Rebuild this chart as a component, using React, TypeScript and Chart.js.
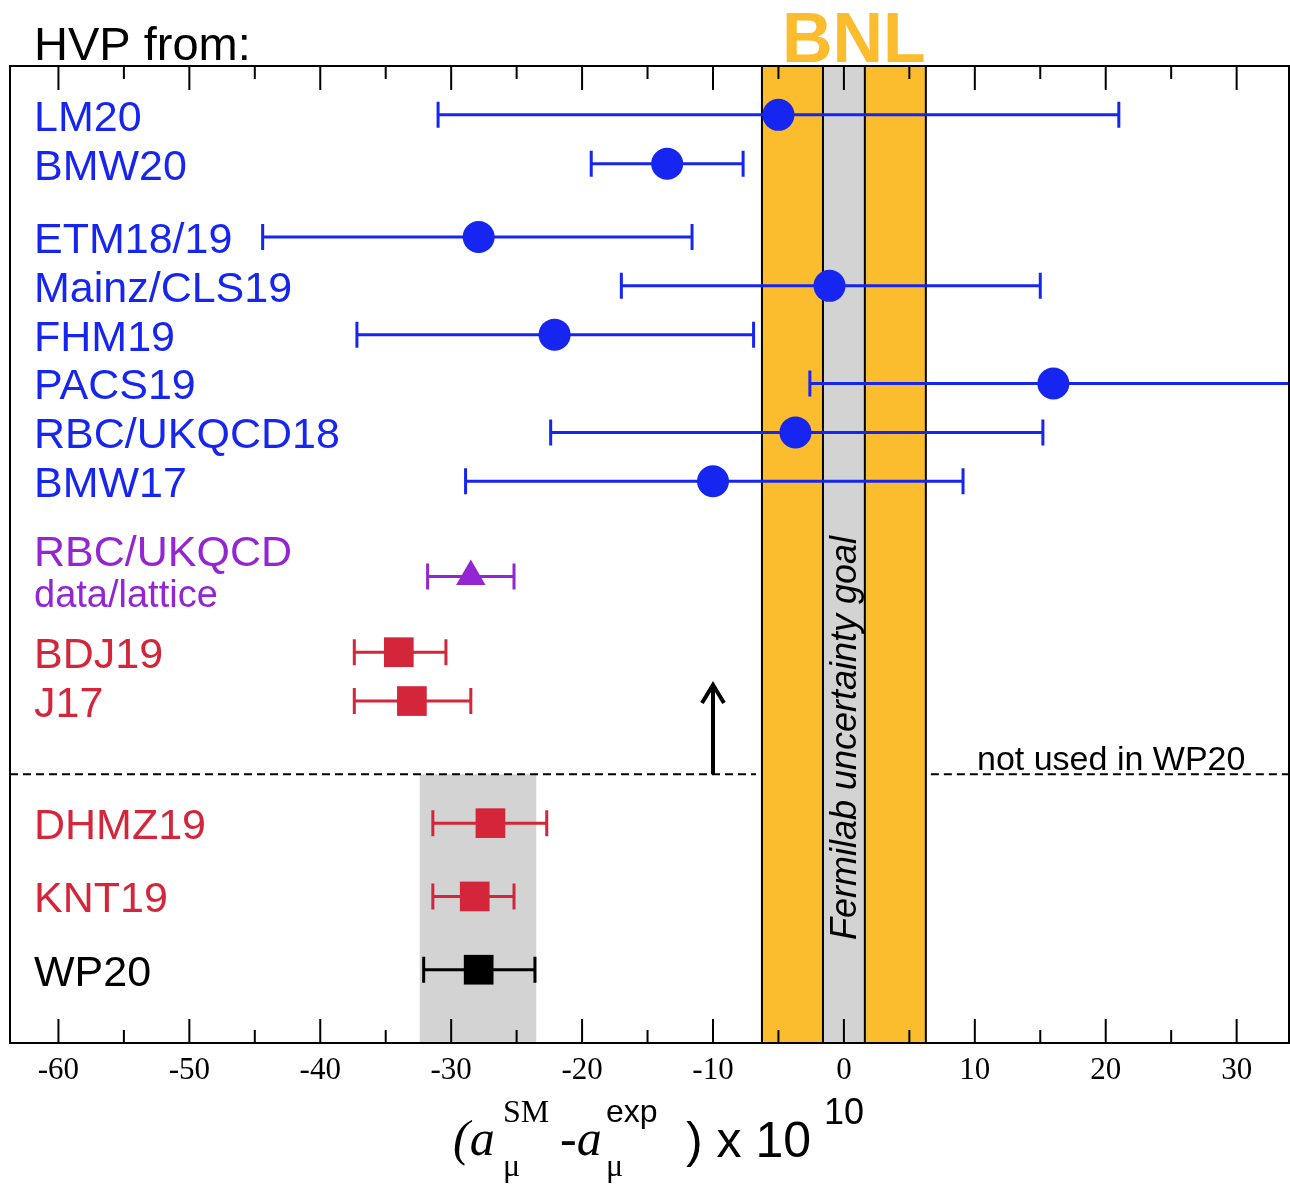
import { useEffect, useRef } from "react"
import Chart from "chart.js/auto"

// rows are in "row units" on a reversed linear y scale (0 top, 20 bottom)
const labels = ["LM20", "BMW20", "ETM18/19", "Mainz/CLS19", "FHM19", "PACS19", "RBC/UKQCD18", "BMW17", "RBC/UKQCD", "BDJ19", "J17", "DHMZ19", "KNT19", "WP20"]
const rows = [1, 2, 3.5, 4.5, 5.5, 6.5, 7.5, 8.5, 10.45, 12, 13, 15.5, 17, 18.5]
const centers = [-5.0, -13.5, -27.9, -1.1, -22.1, 16.0, -3.7, -10.0, -28.5, -34.0, -33.0, -27.0, -28.2, -27.9]
const lows = [-31.0, -19.3, -44.4, -17.0, -37.2, -2.6, -22.4, -28.9, -31.8, -37.4, -37.4, -31.4, -31.4, -32.1]
const highs = [21.0, -7.7, -11.6, 15.0, -6.9, 40, 15.2, 9.1, -25.2, -30.4, -28.5, -22.7, -25.2, -23.6]
const groups = ["blue", "blue", "blue", "blue", "blue", "blue", "blue", "blue", "purple", "red", "red", "red", "red", "black"]
const xTicks = [-60, -50, -40, -30, -20, -10, 0, 10, 20, 30]

const colors: { [k: string]: string } = { blue: "#1626f0", purple: "#9326d2", red: "#d3263a", black: "#000000" }
const styles: { [k: string]: string } = { blue: "circle", purple: "triangle", red: "rect", black: "rect" }

const BNL = 6.26
const FNAL = 1.6
const WP_BAND = [-32.4, -23.5]
const SPLIT_ROW = 14.5
const ARROW_TOP = 12.67

const SANS = "'Liberation Sans', Arial, sans-serif"
const SERIF = "'Liberation Serif', 'Times New Roman', serif"

export default function App() {
  const ref = useRef<HTMLCanvasElement>(null)
  useEffect(() => {
    document.body.style.margin = "0"
    const overlay = {
      id: "overlay",
      beforeDatasetsDraw(chart: any) {
        const { ctx, chartArea: a, scales } = chart
        const x = scales.x, y = scales.y
        ctx.save()
        // BNL band
        ctx.fillStyle = "#fbbd2e"
        ctx.fillRect(x.getPixelForValue(-BNL), a.top, x.getPixelForValue(BNL) - x.getPixelForValue(-BNL), a.bottom - a.top)
        ctx.fillStyle = "#d3d3d3"
        ctx.fillRect(x.getPixelForValue(-FNAL), a.top, x.getPixelForValue(FNAL) - x.getPixelForValue(-FNAL), a.bottom - a.top)
        ctx.strokeStyle = "#000"
        ctx.lineWidth = 2
        for (const v of [-BNL, -FNAL, FNAL, BNL]) {
          const px = x.getPixelForValue(v)
          ctx.beginPath(); ctx.moveTo(px, a.top); ctx.lineTo(px, a.bottom); ctx.stroke()
        }
        // WP band
        const wy = y.getPixelForValue(SPLIT_ROW)
        ctx.fillStyle = "#d3d3d3"
        ctx.fillRect(x.getPixelForValue(WP_BAND[0]), wy, x.getPixelForValue(WP_BAND[1]) - x.getPixelForValue(WP_BAND[0]), a.bottom - wy)
        // dashed line
        ctx.setLineDash([8, 5])
        ctx.lineWidth = 2
        ctx.beginPath(); ctx.moveTo(a.left, wy); ctx.lineTo(x.getPixelForValue(-BNL) - 6, wy); ctx.stroke()
        ctx.beginPath(); ctx.moveTo(x.getPixelForValue(BNL) + 5, wy); ctx.lineTo(a.right, wy); ctx.stroke()
        ctx.setLineDash([])
        // arrow
        const ax = x.getPixelForValue(-10), at = y.getPixelForValue(ARROW_TOP)
        ctx.lineWidth = 4
        ctx.beginPath(); ctx.moveTo(ax, wy); ctx.lineTo(ax, at + 2); ctx.stroke()
        ctx.beginPath(); ctx.moveTo(ax - 11, at + 18); ctx.lineTo(ax, at); ctx.lineTo(ax + 11, at + 18); ctx.stroke()
        // error bars
        ctx.lineWidth = 3
        rows.forEach((r, i) => {
          const py = y.getPixelForValue(r)
          const l = x.getPixelForValue(lows[i]), h = x.getPixelForValue(highs[i])
          ctx.strokeStyle = colors[groups[i]]
          ctx.beginPath(); ctx.moveTo(l, py); ctx.lineTo(h, py)
          ctx.moveTo(l, py - 13); ctx.lineTo(l, py + 13)
          if (highs[i] < 34) { ctx.moveTo(h, py - 13); ctx.lineTo(h, py + 13) }
          ctx.stroke()
        })
        // texts inside
        ctx.fillStyle = "#000"
        ctx.font = `34px ${SANS}`
        ctx.textAlign = "left"; ctx.textBaseline = "alphabetic"
        ctx.fillText("not used in WP20", 977, wy - 4)
        ctx.save()
        ctx.translate(x.getPixelForValue(0) + 12, 738)
        ctx.rotate(-Math.PI / 2)
        ctx.font = `italic 36px ${SANS}`
        ctx.textAlign = "center"
        ctx.fillText("Fermilab uncertainty goal", 0, 0)
        ctx.restore()
        ctx.restore()
      },
      afterDatasetsDraw(chart: any) {
        const { ctx, chartArea: a, scales } = chart
        const x = scales.x, y = scales.y
        ctx.save()
        ctx.strokeStyle = "#000"
        ctx.lineWidth = 2
        ctx.strokeRect(a.left, a.top, a.right - a.left, a.bottom - a.top)
        for (let v = -60; v <= 30; v += 5) {
          const px = x.getPixelForValue(v)
          const len = v % 10 === 0 ? 24 : 13
          ctx.beginPath()
          ctx.moveTo(px, a.bottom); ctx.lineTo(px, a.bottom - len)
          ctx.moveTo(px, a.top); ctx.lineTo(px, a.top + len)
          ctx.stroke()
        }
        ctx.fillStyle = "#000"
        ctx.font = `31px ${SERIF}`
        ctx.textAlign = "center"; ctx.textBaseline = "middle"
        xTicks.forEach((t) => ctx.fillText(String(t), x.getPixelForValue(t), a.bottom + 28))
        // row labels
        ctx.textAlign = "left"
        ctx.font = `43px ${SANS}`
        rows.forEach((r, i) => {
          ctx.fillStyle = colors[groups[i]]
          const py = y.getPixelForValue(r)
          if (i === 8) {
            ctx.fillText(labels[i], 34, py - 22)
            ctx.font = `38px ${SANS}`
            ctx.fillText("data/lattice", 34, py + 20)
            ctx.font = `43px ${SANS}`
          } else {
            ctx.fillText(labels[i], 34, py + 4)
          }
        })
        // header
        ctx.fillStyle = "#000"
        ctx.font = `47px ${SANS}`
        ctx.textBaseline = "alphabetic"
        ctx.fillText("HVP from:", 34, 60)
        ctx.fillStyle = "#fbbd2e"
        ctx.font = `bold 70px ${SANS}`
        ctx.textAlign = "center"
        ctx.fillText("BNL", x.getPixelForValue(0) + 10, 62)
        // axis title
        ctx.fillStyle = "#000"
        ctx.textAlign = "left"
        ctx.font = `italic 50px ${SERIF}`
        ctx.fillText("(a", 453, 1155)
        ctx.font = `32px ${SERIF}`
        ctx.fillText("SM", 503, 1122)
        ctx.fillText("μ", 503, 1176)
        ctx.font = `italic 50px ${SERIF}`
        ctx.fillText("-a", 560, 1155)
        ctx.font = `32px ${SANS}`
        ctx.fillText("exp", 606, 1122)
        ctx.font = `32px ${SERIF}`
        ctx.fillText("μ", 606, 1176)
        ctx.font = `50px ${SANS}`
        ctx.fillText(") x 10", 686, 1157)
        ctx.font = `36px ${SANS}`
        ctx.fillText("10", 824, 1124)
        ctx.restore()
      },
    }
    const datasets = ["blue", "purple", "red", "black"].map((g) => ({
      data: rows.map((r, i) => ({ x: centers[i], y: r })).filter((_, i) => groups[i] === g),
      pointStyle: styles[g],
      pointRadius: g === "blue" ? 16 : g === "purple" ? 17 : 21,
      backgroundColor: colors[g],
      borderColor: colors[g],
      borderWidth: 0,
    }))
    const chart = new Chart(ref.current!, {
      type: "scatter",
      data: { datasets },
      options: {
        animation: false,
        responsive: false,
        layout: { autoPadding: false, padding: { left: 10, right: 1, top: 66, bottom: 142 } },
        plugins: { legend: { display: false }, tooltip: { enabled: false } },
        scales: {
          x: { type: "linear", min: -63.7, max: 34.0, display: false },
          y: { type: "linear", min: 0, max: 20, reverse: true, display: false },
        },
      },
      plugins: [overlay],
    })
    return () => chart.destroy()
  }, [])
  return <canvas ref={ref} width={1290} height={1185} style={{ display: "block" }} />
}
